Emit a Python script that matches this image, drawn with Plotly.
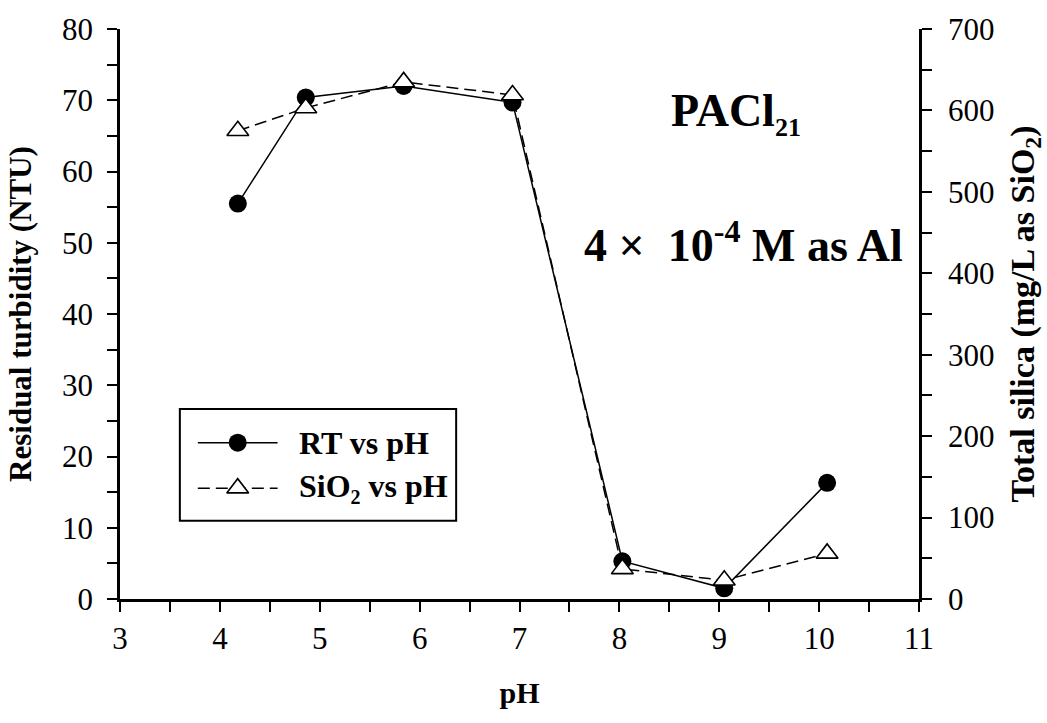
import plotly.graph_objects as go

# Measured data
ph_rt = [4.18, 4.86, 5.84, 6.93, 8.03, 9.05, 10.08]
rt_ntu = [55.5, 70.4, 72.0, 69.7, 5.3, 1.5, 16.3]

ph_si = [4.18, 4.86, 5.84, 6.93, 8.03, 9.05, 10.08]
sio2_mgl = [575, 603, 635, 619, 37, 23, 56]

x_ticks = [3, 4, 5, 6, 7, 8, 9, 10, 11]
y_left_ticks = [0, 10, 20, 30, 40, 50, 60, 70, 80]
y_right_ticks = [0, 100, 200, 300, 400, 500, 600, 700]

FONT = "Liberation Serif"
W, H = 1047, 723
L, R, T, B = 120, 126, 23, 124

fig = go.Figure()

fig.add_trace(go.Scatter(
    x=ph_rt, y=rt_ntu, mode="lines+markers", name="RT vs pH",
    line=dict(color="black", width=1.5),
    marker=dict(symbol="circle", size=18, color="black"),
    showlegend=False, xaxis="x", yaxis="y",
))
fig.add_trace(go.Scatter(
    x=ph_si, y=sio2_mgl, mode="lines+markers", name="SiO2 vs pH",
    line=dict(color="black", width=1.5, dash="12px,6px"),
    marker=dict(symbol="triangle-up", size=19, color="white",
                line=dict(color="black", width=1.6)),
    showlegend=False, xaxis="x", yaxis="y2",
))

# Hand-drawn legend box, positioned in pixels of the plot area
pw, ph = W - L - R, H - T - B


def px(xp):
    return (xp - L) / pw


def py(yp):
    return (H - B - yp) / ph


fig.add_shape(type="rect", xref="paper", yref="paper", layer="below",
              x0=px(180), x1=px(457), y0=py(520), y1=py(407),
              line=dict(color="black", width=2), fillcolor="white")
fig.add_shape(type="line", xref="paper", yref="paper", layer="below",
              x0=px(198), x1=px(278), y0=py(441), y1=py(441),
              line=dict(color="black", width=1.5))
fig.add_shape(type="line", xref="paper", yref="paper", layer="below",
              x0=px(198), x1=px(278), y0=py(487), y1=py(487),
              line=dict(color="black", width=1.5, dash="12px,6px"))
fig.add_trace(go.Scatter(
    x=[px(238)], y=[py(441)], mode="markers", showlegend=False,
    marker=dict(symbol="circle", size=18, color="black"),
    xaxis="x3", yaxis="y3", hoverinfo="skip",
))
fig.add_trace(go.Scatter(
    x=[px(238)], y=[py(487)], mode="markers", showlegend=False,
    marker=dict(symbol="triangle-up", size=19, color="white",
                line=dict(color="black", width=1.6)),
    xaxis="x3", yaxis="y3", hoverinfo="skip",
))
fig.add_annotation(x=px(297), y=py(441), xref="paper", yref="paper",
                   text="<b>RT vs pH</b>", showarrow=False, xanchor="left",
                   yanchor="middle", font=dict(family=FONT, size=32, color="black"))
fig.add_annotation(x=px(297), y=py(487), xref="paper", yref="paper",
                   text="<b>SiO<sub><span style='font-size:20px'>2</span></sub> vs pH</b>",
                   showarrow=False, xanchor="left",
                   yanchor="middle", font=dict(family=FONT, size=32, color="black"))

# Labels inside the plot
fig.add_annotation(x=px(738), y=py(108), xref="paper", yref="paper",
                   text="<b>PACl<sub><span style='font-size:26px'>21</span></sub></b>",
                   showarrow=False, xanchor="center", yanchor="middle",
                   font=dict(family=FONT, size=46, color="black"))
fig.add_annotation(x=px(745), y=py(238), xref="paper", yref="paper",
                   text="<b>4 ×\u00a0 10<sup>-4</sup> M as Al</b>", showarrow=False,
                   xanchor="center", yanchor="middle",
                   font=dict(family=FONT, size=46, color="black"))

axis_common = dict(
    showgrid=False, zeroline=False, showline=True, linecolor="black",
    linewidth=2.5, ticks="outside", ticklen=10, tickwidth=2, tickcolor="black",
    tickfont=dict(family=FONT, size=31, color="black"),
)

fig.update_layout(
    width=W, height=H, autosize=False,
    margin=dict(l=L, r=R, t=T, b=B),
    paper_bgcolor="white", plot_bgcolor="white",
    xaxis=dict(range=[3, 11], tickvals=x_ticks,
               minor=dict(dtick=0.5, ticklen=10, tickwidth=2, tickcolor="black", ticks="outside"),
               title=dict(text="<b>pH</b>", font=dict(family=FONT, size=30, color="black"), standoff=28),
               **axis_common),
    yaxis=dict(range=[0, 80], tickvals=y_left_ticks, ticklabelstandoff=8,
               minor=dict(dtick=5, ticklen=10, tickwidth=2, tickcolor="black", ticks="outside"),
               title=dict(text="<b>Residual turbidity (NTU)</b>",
                          font=dict(family=FONT, size=31, color="black"), standoff=22),
               **axis_common),
    yaxis2=dict(range=[0, 700], tickvals=y_right_ticks, overlaying="y", side="right",
                ticklabelstandoff=10,
                minor=dict(dtick=50, ticklen=10, tickwidth=2, tickcolor="black", ticks="outside"),
                title=dict(text="<b>Total silica (mg/L as SiO<sub>2</sub>)</b>",
                           font=dict(family=FONT, size=34, color="black"), standoff=17),
                **axis_common),
    xaxis3=dict(range=[0, 1], overlaying="x", anchor="y3", visible=False),
    yaxis3=dict(range=[0, 1], overlaying="y", anchor="x3", visible=False),
)

fig.write_html("out.html")
